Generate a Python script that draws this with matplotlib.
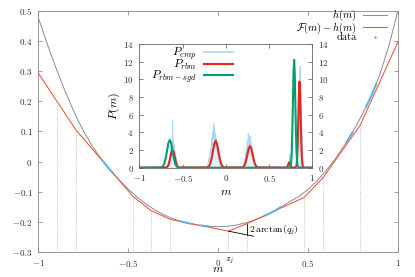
import matplotlib

matplotlib.use('Agg')
import matplotlib.pyplot as plt
import numpy as np
from matplotlib.lines import Line2D

plt.rcParams['font.family'] = 'serif'
plt.rcParams['font.serif'] = ['cmr10', 'DejaVu Serif']
plt.rcParams['mathtext.fontset'] = 'cm'
plt.rcParams['axes.unicode_minus'] = False

# --- main panel: h(m), piecewise-linear F(m) - h(m), data ---
m_h = [-1.00, -0.95, -0.90, -0.85, -0.80, -0.75, -0.70, -0.65, -0.60, -0.55,
       -0.50, -0.45, -0.40, -0.35, -0.30, -0.25, -0.20, -0.15, -0.10, -0.05,
       0.00, 0.05, 0.10, 0.15, 0.20, 0.25, 0.30, 0.35, 0.40, 0.45,
       0.50, 0.55, 0.60, 0.65, 0.70, 0.75, 0.80, 0.85, 0.90, 0.95, 1.00]
h_vals = [0.480, 0.392, 0.310, 0.234, 0.165, 0.104, 0.053, 0.010, -0.027, -0.060,
          -0.090, -0.117, -0.140, -0.160, -0.176, -0.189, -0.199, -0.206, -0.211, -0.214,
          -0.215, -0.214, -0.210, -0.203, -0.194, -0.182, -0.167, -0.150, -0.132, -0.115,
          -0.092, -0.064, -0.030, 0.008, 0.052, 0.100, 0.155, 0.215, 0.290, 0.385, 0.500]

z_knots = [-1.0, -0.894, -0.789, -0.474, -0.372, -0.265, 0.058, 0.161, 0.479, 0.581, 0.790, 1.0]
f_knots = [0.295, 0.199, 0.105, -0.114, -0.162, -0.191, -0.230, -0.205, -0.118, -0.055, 0.121, 0.397]
j_mark = 6  # knot z_j used for the angle annotation

data_m = [[-0.645, -0.63, -0.615, -0.60, -0.58],
          [-0.21, -0.19, -0.17, -0.15],
          [-0.10, -0.075, -0.05],
          [0.26, 0.29, 0.32, 0.35],
          [0.71, 0.73, 0.75],
          [0.82, 0.84, 0.86, 0.88]]
data_v = [[0.006, -0.005, -0.016, -0.027, -0.040],
          [-0.197, -0.2005, -0.203, -0.206],
          [-0.211, -0.2125, -0.214],
          [-0.179, -0.170, -0.161, -0.150],
          [0.061, 0.080, 0.100],
          [0.179, 0.203, 0.229, 0.259]]

main_xticks = [-1, -0.5, 0, 0.5, 1]
main_yticks = [-0.3, -0.2, -0.1, 0, 0.1, 0.2, 0.3, 0.4, 0.5]

# --- inset: P_emp histogram pieces (bin start, step 0.005), P_rbm, P_rbm-sgd ---
emp_start = [-0.67, -0.215, 0.20, 0.715, 0.82]
emp_vals = [
    [0, 0.4, 0.2, 0.9, 0.6, 1.6, 1.1, 2.4, 1.5, 2.9, 1.8, 5.4, 2.1, 3.0, 1.6, 2.5, 1.2,
     1.9, 0.7, 1.2, 0.4, 0.6, 0],
    [0, 0.3, 0.5, 0.9, 0.6, 1.3, 1.0, 1.8, 2.2, 1.6, 2.9, 3.4, 2.5, 4.1, 3.2, 5.0, 3.6,
     4.6, 2.8, 3.9, 2.4, 3.3, 1.9, 2.6, 1.4, 2.0, 1.1, 1.5, 0.7, 1.0, 0.4, 0.6, 0.2, 0.3, 0],
    [0, 0.3, 0.6, 0.4, 1.1, 0.8, 1.7, 1.3, 2.4, 1.9, 3.1, 2.2, 3.9, 2.6, 3.4, 2.0, 3.6,
     2.3, 2.9, 1.7, 2.4, 1.3, 1.8, 0.9, 1.3, 0.6, 0.9, 0.4, 0.5, 0.2, 0.3, 0.1, 0],
    [0, 0.3, 0.7, 0.4, 1.2, 1.5, 0.8, 1.1, 0.5, 0.2, 0],
    [0, 1.2, 2.8, 4.6, 6.3, 8.9, 7.4, 10.2, 11.5, 9.1, 7.8, 5.2, 3.6, 1.9, 0.7, 0],
]

rbm_m = [-1.0, -0.69, -0.678, -0.665, -0.653, -0.64, -0.628, -0.615, -0.603, -0.59,
         -0.578, -0.565, -0.553, -0.54,
         -0.213, -0.197, -0.181, -0.165, -0.149, -0.133, -0.117, -0.101, -0.085, -0.069,
         -0.053, -0.037, -0.021,
         0.19, 0.205, 0.22, 0.235, 0.25, 0.265, 0.28, 0.295, 0.31, 0.325, 0.34, 0.355, 0.37,
         0.698, 0.71, 0.722, 0.734, 0.746, 0.758, 0.77, 0.79,
         0.813, 0.82, 0.826, 0.833, 0.839, 0.846, 0.852, 0.859, 0.865, 0.872, 0.878,
         0.885, 0.891, 0.91, 1.0]
rbm_p = [0, 0.02, 0.09, 0.27, 0.65, 1.21, 1.77, 2.0, 1.77, 1.21, 0.65, 0.27, 0.09, 0.02,
         0.03, 0.13, 0.41, 0.99, 1.85, 2.69, 3.05, 2.69, 1.85, 0.99, 0.41, 0.13, 0.03,
         0.03, 0.11, 0.33, 0.80, 1.49, 2.16, 2.45, 2.16, 1.49, 0.80, 0.33, 0.11, 0.03,
         0.01, 0.08, 0.36, 0.60, 0.36, 0.08, 0.01, 0,
         0.11, 0.43, 1.32, 3.17, 5.91, 8.60, 9.75, 8.60, 5.91, 3.17, 1.32, 0.43, 0.11, 0, 0]

sgd_m = [-1.0, -0.744, -0.728, -0.712, -0.696, -0.68, -0.664, -0.648, -0.632, -0.616,
         -0.60, -0.584, -0.568, -0.552, -0.53,
         0.73, 0.748, 0.755, 0.762, 0.769, 0.776, 0.783, 0.79, 0.797, 0.804, 0.811, 0.818,
         0.825, 0.832, 0.85, 1.0]
sgd_p = [0, 0.03, 0.14, 0.43, 1.02, 1.91, 2.78, 3.15, 2.78, 1.91, 1.02, 0.43, 0.14, 0.03, 0,
         0, 0.14, 0.54, 1.65, 3.96, 7.40, 10.77, 12.2, 10.77, 7.40, 3.96, 1.65, 0.54, 0.14, 0, 0]

inset_xticks = [-1, -0.5, 0, 0.5, 1]
inset_yticks = [0, 2, 4, 6, 8, 10, 12, 14]
emp_step = 0.005

c_gray = '#8c8c8c'
c_red_thin = '#f0503c'
c_data = '#56b4e9'
c_emp = '#a9d7f4'
c_red = '#e5261c'
c_green = '#009e73'


def tex_labels(values):
    return ['$%g$' % v for v in values]


fig = plt.figure(figsize=(4.15, 2.77), dpi=100)
ax = fig.add_axes([0.0916, 0.0892, 0.8674, 0.8722])

ax.plot(m_h, h_vals, color=c_gray, lw=0.7, label='$h(m)$')
ax.plot(z_knots, f_knots, color=c_red_thin, lw=0.75, label=r'$\mathcal{F}(m) - h(m)$')
for xs, ys in zip(data_m, data_v):
    ax.plot(xs, ys, color=c_data, lw=1.4, solid_capstyle='butt')
ax.vlines(z_knots[1:-1], -0.3, f_knots[1:-1], colors='#b0b0b0', linestyles=':', lw=0.6)

# angle between neighbouring segments at z_j
zj, fj = z_knots[j_mark], f_knots[j_mark]
slope = (fj - f_knots[j_mark - 1]) / (zj - z_knots[j_mark - 1])
z_end = zj + 0.14
ax.plot([zj, z_end], [fj, fj + slope * (z_end - zj)], color='k', lw=0.6)
zn, fn = z_knots[j_mark + 1], f_knots[j_mark + 1]
ax.plot([zn, zn], [fn, fj + slope * (zn - zj)], color='k', lw=0.6)
ax.text(zn + 0.012, -0.227, r'$2\,\arctan(q_j)$', fontsize=7, va='center', ha='left')
ax.annotate('$z_j$', xy=(zj, -0.3), xytext=(1, -2.5), textcoords='offset points',
            ha='center', va='top', fontsize=7, annotation_clip=False)

ax.set_xlim(-1, 1)
ax.set_ylim(-0.3, 0.5)
ax.set_xticks(main_xticks)
ax.set_xticklabels(tex_labels(main_xticks))
ax.set_yticks(main_yticks)
ax.set_yticklabels(tex_labels(main_yticks))
ax.tick_params(direction='in', length=3, width=0.5, colors='#777777', labelcolor='#333333',
               labelsize=6.5, top=True, right=True, pad=4)
for s in ax.spines.values():
    s.set_color('#888888')
    s.set_linewidth(0.6)
ax.set_xlabel('$m$', fontsize=8.5, labelpad=-3.5)

handles = [Line2D([], [], color=c_gray, lw=0.7),
           Line2D([], [], color=c_red_thin, lw=0.75),
           Line2D([], [], color=c_data, marker='.', ms=1.5, ls='none')]
ax.legend(handles, ['$h(m)$', r'$\mathcal{F}(m) - h(m)$', 'data'], loc='upper right',
          bbox_to_anchor=(0.972, 1.015), frameon=False, markerfirst=False, fontsize=7.5,
          labelspacing=-0.28, handlelength=2.3, handletextpad=0.6, borderaxespad=0,
          borderpad=0.1)

# --- inset ---
ins = fig.add_axes([0.3357, 0.3946, 0.4168, 0.4466])
for start, vals in zip(emp_start, emp_vals):
    xs = start + emp_step * np.arange(len(vals))
    ins.fill_between(xs, 0, vals, color=c_emp, alpha=0.35, lw=0)
    ins.plot(xs, vals, color=c_emp, lw=0.7)
ins.plot(rbm_m, rbm_p, color=c_red, lw=1.5)
ins.plot(sgd_m, sgd_p, color=c_green, lw=1.5)

ins.set_xlim(-1, 1)
ins.set_ylim(0, 14)
ins.set_xticks(inset_xticks)
ins.set_xticklabels(tex_labels(inset_xticks))
ins.set_yticks(inset_yticks)
ins.set_yticklabels(tex_labels(inset_yticks))
ins.tick_params(direction='in', length=3, width=0.5, labelsize=6.5, top=True, right=True,
                labelright=True, pad=4, colors='#555555', labelcolor='#333333')
for s in ins.spines.values():
    s.set_color('#666666')
    s.set_linewidth(0.6)
ins.set_xlabel('$m$', fontsize=8.5, labelpad=2)
ins.set_ylabel('$P(m)$', fontsize=8.5, labelpad=1)

ins_handles = [Line2D([], [], color=c_emp, lw=1.2),
               Line2D([], [], color=c_red, lw=1.5),
               Line2D([], [], color=c_green, lw=1.5)]
ins.legend(ins_handles, ['$P_{emp}$', '$P_{rbm}$', '$P_{rbm-sgd}$'], loc='upper right',
           bbox_to_anchor=(0.55, 1.0), frameon=False, markerfirst=False, fontsize=8.5,
           labelspacing=-0.3, handlelength=2.5, handletextpad=0.6, borderaxespad=0,
           borderpad=0.1)

fig.savefig('out.png', dpi=100)
